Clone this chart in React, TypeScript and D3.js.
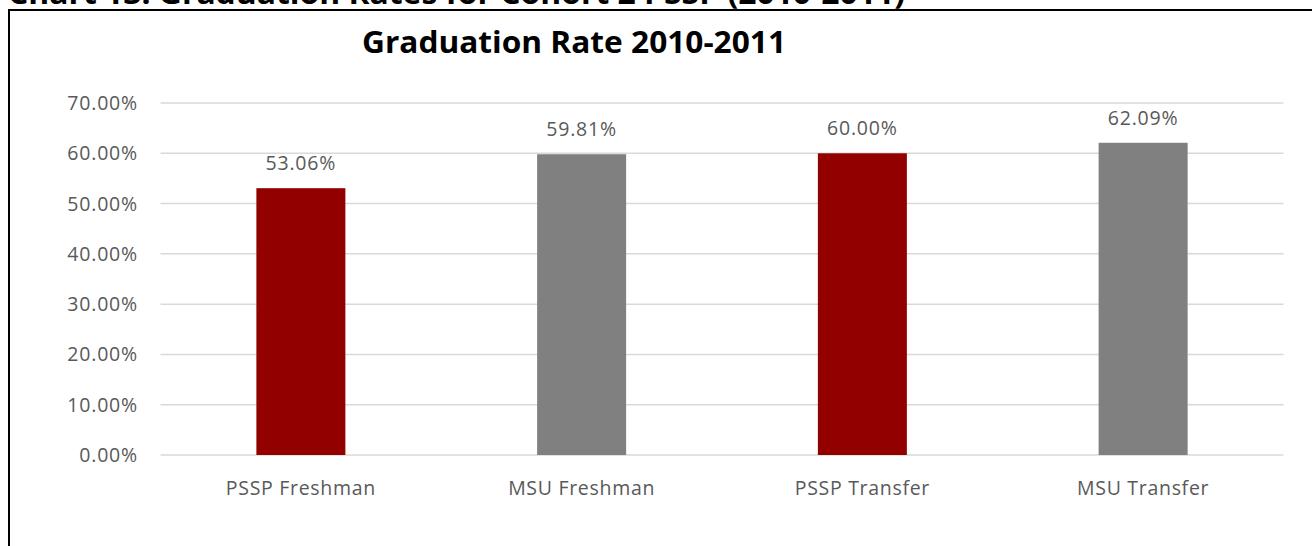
import React from "react";
import * as d3 from "d3";

const pageTitle = "Chart 13: Graduation Rates for Cohort 2 PSSP (2010-2011)";
const chartTitle = "Graduation Rate 2010-2011";
const categories = ["PSSP Freshman", "MSU Freshman", "PSSP Transfer", "MSU Transfer"];
const values = [0.5306, 0.5981, 0.6, 0.6209];
const barColors = ["#930000", "#808080", "#930000", "#808080"];
const yTicks = [0, 0.1, 0.2, 0.3, 0.4, 0.5, 0.6, 0.7];

const W = 1312;
const H = 546;
const plot = { left: 160.5, right: 1283.5, top: 103, bottom: 455 };
const font = "'Open Sans', 'Segoe UI', sans-serif";
const textColor = "#595959";

export default function App() {
  const x = d3
    .scaleBand<string>()
    .domain(categories)
    .range([plot.left, plot.right])
    .paddingInner(0.683)
    .paddingOuter(0.3415);
  const y = d3.scaleLinear().domain([0, 0.7]).range([plot.bottom, plot.top]);
  const fmt = d3.format(".2%");

  return (
    <svg
      width={W}
      height={H}
      style={{ position: "absolute", left: 0, top: 0, background: "#fff" }}
    >
      <text
        x={8}
        y={4}
        fontFamily={font}
        fontWeight={700}
        fontSize={30}
        textLength={897}
        lengthAdjust="spacingAndGlyphs"
        fill="#000"
      >
        {pageTitle}
      </text>
      <path d={`M9,${H} V10 H${W}`} fill="none" stroke="#000" strokeWidth={2} />
      <text
        x={574}
        y={53}
        textAnchor="middle"
        fontFamily={font}
        fontWeight={700}
        fontSize={30}
        textLength={424}
        lengthAdjust="spacingAndGlyphs"
        fill="#000"
      >
        {chartTitle}
      </text>
      {yTicks.map((t) => (
        <g key={t}>
          <line
            x1={plot.left}
            x2={plot.right}
            y1={y(t)}
            y2={y(t)}
            stroke="#d9d9d9"
            strokeWidth={1.5}
          />
          <text
            x={138}
            y={y(t) + 7}
            textAnchor="end"
            fontFamily={font}
            fontSize={19.5}
            letterSpacing={0.8}
            fill={textColor}
          >
            {fmt(t)}
          </text>
        </g>
      ))}
      {categories.map((c, i) => {
        const bx = x(c)!;
        const bw = x.bandwidth();
        const cx = bx + bw / 2;
        return (
          <g key={c}>
            <rect
              x={bx}
              y={y(values[i])}
              width={bw}
              height={plot.bottom - y(values[i])}
              fill={barColors[i]}
            />
            <text
              x={cx}
              y={y(values[i]) - 18}
              textAnchor="middle"
              fontFamily={font}
              fontSize={19.5}
              letterSpacing={0.8}
              fill={textColor}
            >
              {fmt(values[i])}
            </text>
            <text
              x={cx}
              y={495}
              textAnchor="middle"
              fontFamily={font}
              fontSize={19.5}
              letterSpacing={0.7}
              fill={textColor}
            >
              {c}
            </text>
          </g>
        );
      })}
    </svg>
  );
}
